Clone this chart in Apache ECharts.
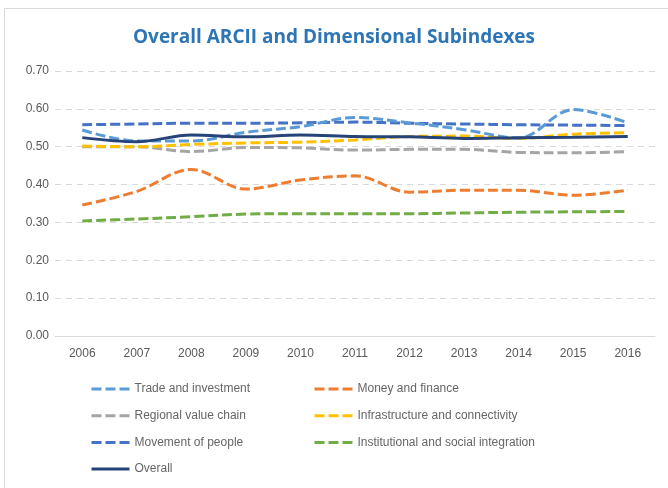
<!DOCTYPE html>
<html><head><meta charset="utf-8">
<script src="https://cdn.jsdelivr.net/npm/echarts@6/dist/echarts.min.js"></script>
<style>html,body{margin:0;padding:0;background:#fff}#c{width:668px;height:488px}</style>
</head><body><div id="c"></div>
<script>
const years = ['2006','2007','2008','2009','2010','2011','2012','2013','2014','2015','2016'];
const yTicks = [0,0.1,0.2,0.3,0.4,0.5,0.6,0.7];
const tradeInvestment = [0.544,0.515,0.515,0.538,0.553,0.577,0.563,0.545,0.523,0.598,0.563];
const moneyFinance = [0.346,0.382,0.440,0.388,0.412,0.423,0.380,0.385,0.385,0.372,0.385];
const regionalValueChain = [0.500,0.500,0.487,0.498,0.497,0.491,0.493,0.493,0.485,0.484,0.487];
const infrastructure = [0.502,0.500,0.506,0.510,0.512,0.518,0.527,0.528,0.522,0.533,0.537];
const movementPeople = [0.558,0.560,0.562,0.562,0.563,0.565,0.562,0.560,0.558,0.557,0.556];
const institutional = [0.304,0.309,0.315,0.322,0.323,0.323,0.323,0.325,0.327,0.328,0.329];
const overall = [0.524,0.513,0.531,0.526,0.531,0.527,0.526,0.522,0.524,0.525,0.527];

const names = ['Trade and investment','Money and finance','Regional value chain','Infrastructure and connectivity','Movement of people','Institutional and social integration','Overall'];
const colors = ['#5B9BD5','#ED7D31','#A5A5A5','#FFC000','#4472C4','#70AD47','#264478'];
const datas = [tradeInvestment,moneyFinance,regionalValueChain,infrastructure,movementPeople,institutional,overall];

const chart = echarts.init(document.getElementById('c'));
const font = 'Liberation Sans';
const legendCommon = {orient:'vertical',top:378,itemWidth:38,itemHeight:12,itemGap:14.7,
  itemStyle:{opacity:0},
  lineStyle:{width:3},
  textStyle:{color:'#666666',fontSize:12,fontFamily:font}};
chart.setOption({
  animation:false,
  backgroundColor:'#fff',
  title:{text:'Overall ARCII and Dimensional Subindexes',left:'center',top:23,
    textStyle:{color:'#2E75B6',fontSize:19,fontWeight:'bold',fontFamily:'Open Sans'}},
  graphic:[{type:'rect',shape:{x:4.5,y:8.5,width:680,height:490},style:{fill:'none',stroke:'#D9D9D9',lineWidth:1},silent:true}],
  grid:{left:55,right:13,top:71,bottom:152},
  legend:[
    Object.assign({data:[names[0],names[2],names[4],names[6]],left:85},legendCommon),
    Object.assign({data:[names[1],names[3],names[5]],left:308},legendCommon)
  ],
  xAxis:{type:'category',data:years,boundaryGap:true,
    axisLine:{lineStyle:{color:'#D9D9D9'}},axisTick:{show:false},
    axisLabel:{color:'#595959',fontSize:12,fontFamily:font,margin:12}},
  yAxis:{type:'value',min:0,max:0.7,interval:0.1,
    axisLine:{show:false},axisTick:{show:false},
    splitLine:{lineStyle:{color:'#D9D9D9',type:[6,5]}},
    axisLabel:{color:'#595959',fontSize:12,fontFamily:font,margin:6,formatter:v=>v.toFixed(2)}},
  series:datas.map((d,i)=>({
    name:names[i],type:'line',data:d,smooth:0.35,symbol:'none',
    z: i===6?5:(i===0?4:3),
    lineStyle:{color:colors[i],width:3,type:i===6?'solid':[10,4]},
    itemStyle:{color:colors[i]}
  }))
});
</script></body></html>
